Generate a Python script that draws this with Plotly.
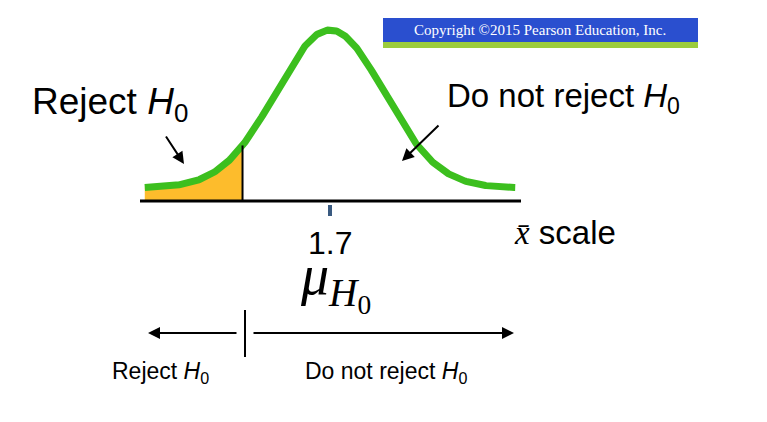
import numpy as np
import plotly.graph_objects as go

mu = 1.7
sigma = 0.1
crit = 1.538
tick_labels = ["1.7"]

W, H = 767, 422
OFF = 8
pxu = 540.0
x0 = mu - 330 / pxu
ypx = 158.0
def X(p): return x0 + p / pxu
def Y(p): return (188 - p) / ypx

xs = np.linspace(mu - 3.43 * sigma, mu + 3.43 * sigma, 400)
ys = np.exp(-0.5 * ((xs - mu) / sigma) ** 2)
xf = xs[xs <= crit]
yf = np.exp(-0.5 * ((xf - mu) / sigma) ** 2)
ycrit = np.exp(-0.5 * ((crit - mu) / sigma) ** 2)

fig = go.Figure()
fig.add_trace(go.Scatter(x=np.r_[xf, crit, xf[0]], y=np.r_[yf, Y(201), Y(201)],
                         fill="toself", fillcolor="#fdbc2c", line=dict(width=0), mode="lines"))
fig.add_trace(go.Scatter(x=xs, y=ys, mode="lines", line=dict(color="#3cbf1e", width=7)))

shapes = [
    dict(type="line", x0=X(140), x1=X(521), y0=Y(201), y1=Y(201), line=dict(color="black", width=3)),
    dict(type="line", x0=crit, x1=crit, y0=Y(201), y1=ycrit, line=dict(color="black", width=2)),
    dict(type="line", x0=mu, x1=mu, y0=Y(205), y1=Y(216), line=dict(color="#3a5a80", width=4)),
    dict(type="rect", x0=X(383), x1=X(698), y0=Y(18), y1=Y(42), fillcolor="#2a4fcf", line=dict(width=0)),
    dict(type="rect", x0=X(383), x1=X(698), y0=Y(42), y1=Y(48), fillcolor="#9ccc3c", line=dict(width=0)),
    dict(type="line", x0=X(245), x1=X(245), y0=Y(310), y1=Y(357), line=dict(color="black", width=2)),
]
def T(px, py, text, size, family="Liberation Sans", color="black"):
    return dict(x=X(px), y=Y(py), text=text, xref="x", yref="y", showarrow=False,
                font=dict(family=family, size=size, color=color))
ann = [
    T(540, 30, "Copyright ©2015 Pearson Education, Inc.", 15, "Liberation Serif", "white"),
    T(110, 104, "Reject <i>H</i><sub>0</sub>", 37),
    T(563, 98, "Do not reject <i>H</i><sub>0</sub>", 33),
    T(330, 243, tick_labels[0], 32),
    T(335, 282, "<i>μ</i><sub><i>H</i><sub>0</sub></sub>", 56, "Liberation Serif"),
    T(565, 232, "<span style='font-family:Liberation Serif'><i>x̄</i></span> scale", 33),
    T(160, 372, "Reject <i>H</i><sub>0</sub>", 23),
    T(386, 372, "Do not reject <i>H</i><sub>0</sub>", 23),
]
def arrow(xa, ya, xb, yb):
    return dict(x=X(xb), y=Y(yb), ax=X(xa), ay=Y(ya), xref="x", yref="y", axref="x", ayref="y",
                showarrow=True, arrowhead=2, arrowwidth=2, arrowsize=1.2, arrowcolor="black", text="")
ann += [arrow(165, 135, 184, 164), arrow(440, 124, 402, 161),
        arrow(238, 333, 148, 333), arrow(252, 333, 514, 333)]

fig.update_layout(width=W, height=H, margin=dict(l=0, r=0, t=0, b=0), showlegend=False,
                  plot_bgcolor="white", paper_bgcolor="white", shapes=shapes, annotations=ann,
                  xaxis=dict(range=[X(OFF), X(OFF + W)], visible=False, fixedrange=True),
                  yaxis=dict(range=[Y(OFF + H), Y(OFF)], visible=False, fixedrange=True))
fig.write_html("out.html")
